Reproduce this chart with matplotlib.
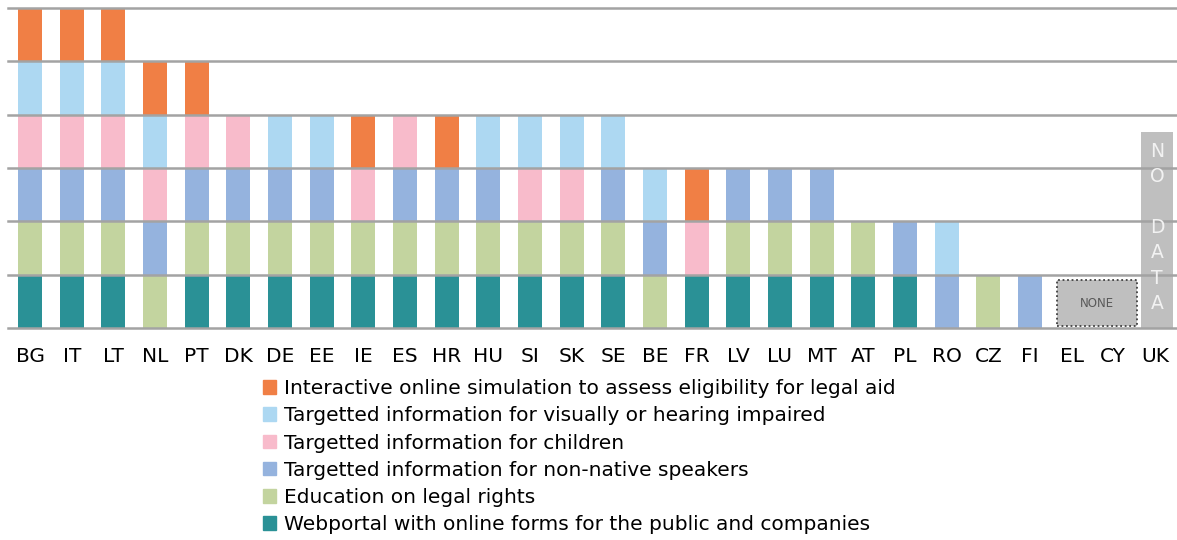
import numpy as np
import matplotlib.pyplot as plt
from matplotlib.patches import Patch

countries = ['BG', 'IT', 'LT', 'NL', 'PT', 'DK', 'DE', 'EE', 'IE', 'ES', 'HR', 'HU', 'SI', 'SK',
             'SE', 'BE', 'FR', 'LV', 'LU', 'MT', 'AT', 'PL', 'RO', 'CZ', 'FI', 'EL', 'CY', 'UK']

# presence (1) of each feature per country, bottom to top of the stack
webportal   = [1, 1, 1, 0, 1, 1, 1, 1, 1, 1, 1, 1, 1, 1, 1, 0, 1, 1, 1, 1, 1, 1, 0, 0, 0, 0, 0, 0]
education   = [1, 1, 1, 1, 1, 1, 1, 1, 1, 1, 1, 1, 1, 1, 1, 1, 0, 1, 1, 1, 1, 0, 0, 1, 0, 0, 0, 0]
non_native  = [1, 1, 1, 1, 1, 1, 1, 1, 0, 1, 1, 1, 0, 0, 1, 1, 0, 1, 1, 1, 0, 1, 1, 0, 1, 0, 0, 0]
children    = [1, 1, 1, 1, 1, 1, 0, 0, 1, 1, 0, 0, 1, 1, 0, 0, 1, 0, 0, 0, 0, 0, 0, 0, 0, 0, 0, 0]
impaired    = [1, 1, 1, 1, 0, 0, 1, 1, 0, 0, 0, 1, 1, 1, 1, 1, 0, 0, 0, 0, 0, 0, 1, 0, 0, 0, 0, 0]
interactive = [1, 1, 1, 1, 1, 0, 0, 0, 1, 0, 1, 0, 0, 0, 0, 0, 1, 0, 0, 0, 0, 0, 0, 0, 0, 0, 0, 0]

labels = ['Webportal with online forms for the public and companies',
          'Education on legal rights',
          'Targetted information for non-native speakers',
          'Targetted information for children',
          'Targetted information for visually or hearing impaired',
          'Interactive online simulation to assess eligibility for legal aid']
colors = ['#2a9196', '#c3d49f', '#95b3de', '#f8bbcb', '#add8f2', '#f07f45']

no_data_height = 3.67   # UK
none_height = 0.87      # EL / CY

series = [webportal, education, non_native, children, impaired, interactive]

fig = plt.figure(figsize=(11.77, 5.40), dpi=100)
ax = fig.add_axes([8 / 1177, 1 - 328 / 540, 1 - 8 / 1177, 320 / 540])

x = np.arange(len(countries))
bottom = np.zeros(len(countries))
for vals, col in zip(series, colors):
    v = np.array(vals, dtype=float)
    ax.bar(x, v, 0.58, bottom=bottom, color=col, edgecolor='none', zorder=2)
    bottom += v

# no data bar for UK
ax.bar(x[-1] + 0.05, no_data_height, 0.75, color='#bfbfbf', zorder=2)
ax.text(x[-1] + 0.05, no_data_height / 2 + 0.05, 'N\nO\n\nD\nA\nT\nA', ha='center', va='center',
        color='#f2f2f2', fontsize=13.5, linespacing=1.42, zorder=4)

# "none" box spanning EL and CY
ax.bar(25.6, none_height, 1.92, bottom=0.03, color='#bfbfbf', edgecolor='#404040',
       linestyle=(0, (1, 1.5)), linewidth=1.3, zorder=3)
ax.text(25.6, 0.03 + none_height / 2, 'NONE', ha='center', va='center', fontsize=8.5,
        color='#595959', zorder=4)

for yv in range(7):
    ax.axhline(yv, color='#a3a3a3', linewidth=1.8, zorder=3, clip_on=False)

ax.set_xlim(-0.53, len(countries) - 0.47)
ax.set_ylim(0, 6)
ax.set_yticks([])
ax.set_xticks(x)
ax.set_xticklabels(countries, fontsize=14.5)
ax.tick_params(axis='x', length=0, pad=14)
for s in ax.spines.values():
    s.set_visible(False)

handles = [Patch(color=c, label=l) for c, l in zip(colors, labels)][::-1]
fig.legend(handles=handles, loc='upper left', bbox_to_anchor=(263 / 1177, 1 - 379 / 540),
           frameon=False, fontsize=14.5, handlelength=0.65, handleheight=0.65,
           handletextpad=0.4, labelspacing=0.41, borderpad=0, borderaxespad=0)

fig.savefig('out.png', dpi=100)
